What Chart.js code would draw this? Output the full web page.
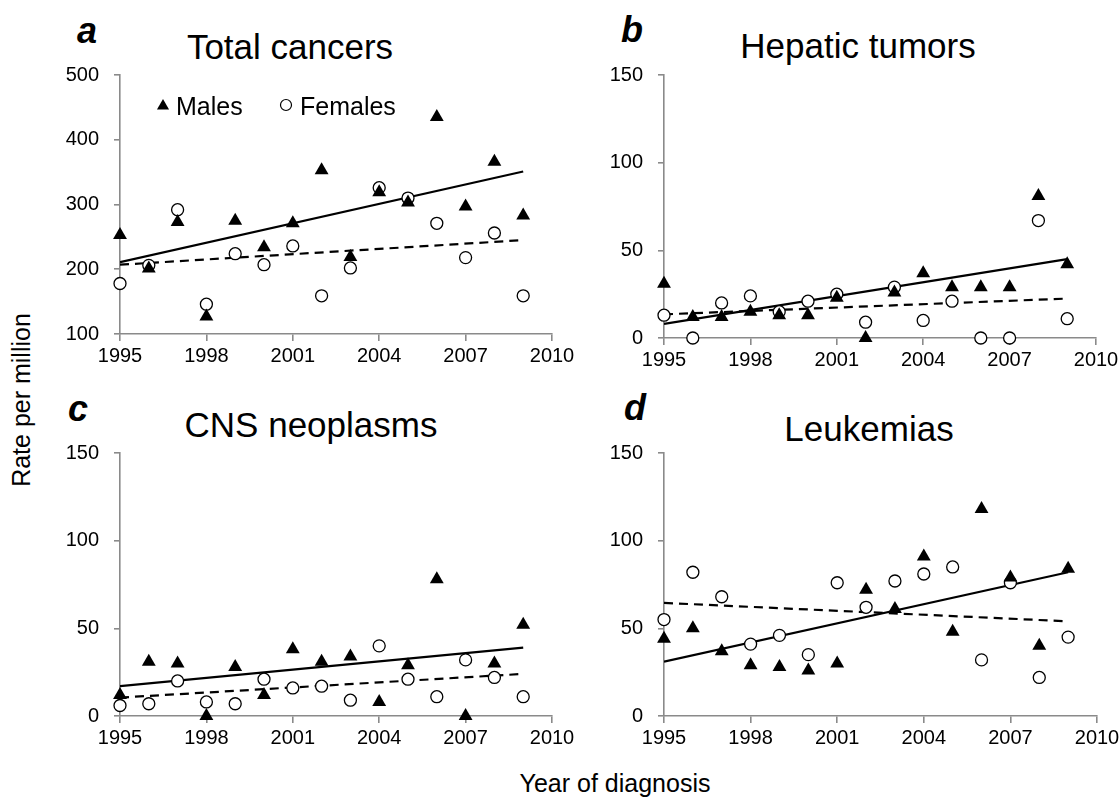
<!DOCTYPE html>
<html>
<head>
<meta charset="utf-8">
<script src="https://cdn.jsdelivr.net/npm/chart.js@4.4.0/dist/chart.umd.min.js"></script>
<style>
  body { margin: 0; background: #fff; width: 1120px; height: 801px; position: relative; overflow: hidden;
         font-family: 'Liberation Sans', Arial, sans-serif; }
  canvas { position: absolute; }
  .txt { position: absolute; transform: translate(-50%, -50%); white-space: nowrap; line-height: 1; color: #000; }
  .title { font-size: 35px; }
  .letter { font-size: 36px; font-weight: bold; font-style: italic; }
  .axis { font-size: 25px; }
</style>
</head>
<body>
<div class="txt letter" style="left:87px;top:31px">a</div>
<div class="txt letter" style="left:632px;top:30px">b</div>
<div class="txt letter" style="left:78px;top:409px">c</div>
<div class="txt letter" style="left:635px;top:408px">d</div>
<div class="txt title" style="left:290px;top:46px">Total cancers</div>
<div class="txt title" style="left:858px;top:45px">Hepatic tumors</div>
<div class="txt title" style="left:311px;top:424px">CNS neoplasms</div>
<div class="txt title" style="left:869px;top:428px">Leukemias</div>
<div class="txt axis" style="left:21px;top:400px;transform:translate(-50%,-50%) rotate(-90deg)">Rate per million</div>
<div class="txt axis" style="left:615px;top:783px">Year of diagnosis</div>
<script>
// years of diagnosis and axis ticks
const years = [1995, 1996, 1997, 1998, 1999, 2000, 2001, 2002, 2003, 2004, 2005, 2006, 2007, 2008, 2009];
const trendYears = [1995, 2009];
const yearTicks = [1995, 1998, 2001, 2004, 2007, 2010];
const totalTicks = [100, 200, 300, 400, 500];
const siteTicks = [0, 50, 100, 150];

// a - total cancers
const totalMales = [253, 201, 273, 127, 275, 234, 271, 353, 219, 319, 303, 435, 297, 366, 283];
const totalFemales = [178, 206, 292, 146, 224, 207, 236, 159, 202, 326, 310, 271, 218, 256, 159];
const totalMaleTrend = [211, 351];
const totalFemaleTrend = [207, 245];

// b - hepatic tumors
const hepaticMales = [31, 12, 12, 15, 13, 13, 23, 0, 26, 37, 29, 29, 29, 81, 42];
const hepaticFemales = [13, 0, 20, 24, 15, 21, 25, 9, 29, 10, 21, 0, 0, 67, 11];
const hepaticMaleTrend = [8, 45];
const hepaticFemaleTrend = [13.5, 22.5];

// c - CNS neoplasms
const cnsMales = [12, 31, 30, 0, 28, 12, 38, 31, 34, 8, 29, 78, 0, 30, 52];
const cnsFemales = [6, 7, 20, 8, 7, 21, 16, 17, 9, 40, 21, 11, 32, 22, 11];
const cnsMaleTrend = [17, 39];
const cnsFemaleTrend = [10.5, 24];

// d - leukemias
const leukMales = [44, 50, 37, 29, 28, 26, 30, 72, 61, 91, 48, 118, 79, 40, 84];
const leukFemales = [55, 82, 68, 41, 46, 35, 76, 62, 77, 81, 85, 32, 76, 22, 45];
const leukMaleTrend = [31, 82];
const leukFemaleTrend = [64.5, 54];

const FONT = "'Liberation Sans', Arial, sans-serif";
const AXIS = '#8a8a8a';
const Y_W = 70, X_H = 44, PAD_T = 16, PAD_R = 28;

const panels = [
  { males: totalMales, females: totalFemales, mt: totalMaleTrend, ft: totalFemaleTrend, yTicks: totalTicks,
    box: { left: 120, top: 64, right: 552, bottom: 334 }, legend: true },
  { males: hepaticMales, females: hepaticFemales, mt: hepaticMaleTrend, ft: hepaticFemaleTrend, yTicks: siteTicks,
    box: { left: 664, top: 64, right: 1096, bottom: 338 } },
  { males: cnsMales, females: cnsFemales, mt: cnsMaleTrend, ft: cnsFemaleTrend, yTicks: siteTicks,
    box: { left: 120, top: 442, right: 552, bottom: 716 } },
  { males: leukMales, females: leukFemales, mt: leukMaleTrend, ft: leukFemaleTrend, yTicks: siteTicks,
    box: { left: 664, top: 442, right: 1097, bottom: 716 } },
];

// legend drawn inside panel a
const sexLegend = {
  id: 'sexLegend',
  afterDatasetsDraw(chart) {
    const { ctx, chartArea } = chart;
    const x0 = chartArea.left, y0 = chartArea.top;
    ctx.save();
    // triangle
    const tx = x0 + 43, ty = y0 + 31, r = 7;
    ctx.fillStyle = '#000';
    ctx.beginPath();
    ctx.moveTo(tx, ty - r);
    ctx.lineTo(tx + r * 0.866, ty + r * 0.5);
    ctx.lineTo(tx - r * 0.866, ty + r * 0.5);
    ctx.closePath();
    ctx.fill();
    // circle
    ctx.beginPath();
    ctx.arc(x0 + 166, y0 + 30, 5.5, 0, Math.PI * 2);
    ctx.fillStyle = '#fff';
    ctx.fill();
    ctx.lineWidth = 1.2;
    ctx.strokeStyle = '#000';
    ctx.stroke();
    ctx.fillStyle = '#000';
    ctx.font = '25px ' + FONT;
    ctx.textBaseline = 'alphabetic';
    ctx.fillText('Males', x0 + 56, y0 + 40);
    ctx.fillText('Females', x0 + 180, y0 + 40);
    ctx.restore();
  }
};

const pts = (xs, ys) => xs.map((x, i) => ({ x: x, y: ys[i] }));

function makePanel(p) {
  const c = document.createElement('canvas');
  const w = p.box.right - p.box.left + Y_W + PAD_R;
  const h = p.box.bottom - p.box.top + PAD_T + X_H;
  c.width = w;
  c.height = h;
  c.style.width = w + 'px';
  c.style.height = h + 'px';
  c.style.left = (p.box.left - Y_W) + 'px';
  c.style.top = (p.box.top - PAD_T) + 'px';
  document.body.appendChild(c);

  new Chart(c.getContext('2d'), {
    type: 'scatter',
    data: {
      datasets: [
        { label: 'Males', data: pts(years, p.males), pointStyle: 'triangle', pointRadius: 8,
          pointBackgroundColor: '#000', pointBorderWidth: 0, order: 0, clip: false },
        { label: 'Females', data: pts(years, p.females), pointStyle: 'circle', pointRadius: 6,
          pointBackgroundColor: '#fff', pointBorderColor: '#000', pointBorderWidth: 1.3, order: 1, clip: false },
        { label: 'Males trend', data: pts(trendYears, p.mt), showLine: true, pointRadius: 0,
          borderColor: '#000', borderWidth: 2.2, order: 2 },
        { label: 'Females trend', data: pts(trendYears, p.ft), showLine: true, pointRadius: 0,
          borderColor: '#000', borderWidth: 2.2, borderDash: [9, 6], order: 3 },
      ],
    },
    options: {
      responsive: false,
      devicePixelRatio: 1,
      animation: false,
      events: [],
      layout: { padding: { top: PAD_T, right: PAD_R, left: 0, bottom: 0 } },
      plugins: { legend: { display: false }, tooltip: { enabled: false } },
      scales: {
        x: {
          type: 'linear', min: yearTicks[0], max: yearTicks[yearTicks.length - 1],
          afterBuildTicks: (s) => { s.ticks = yearTicks.map((v) => ({ value: v })); },
          afterFit: (s) => { s.height = X_H; },
          border: { color: AXIS, width: 1.6 },
          grid: { drawOnChartArea: false, drawTicks: true, tickLength: 7, color: AXIS, lineWidth: 1.6 },
          ticks: { color: '#000', font: { family: FONT, size: 20 }, padding: 3, maxRotation: 0,
                   autoSkip: false, callback: (v) => String(v) },
        },
        y: {
          type: 'linear', min: p.yTicks[0], max: p.yTicks[p.yTicks.length - 1],
          afterBuildTicks: (s) => { s.ticks = p.yTicks.map((v) => ({ value: v })); },
          afterFit: (s) => { s.width = Y_W; },
          border: { color: AXIS, width: 1.6 },
          grid: { drawOnChartArea: false, drawTicks: true, tickLength: 6, color: AXIS, lineWidth: 1.6 },
          ticks: { color: '#000', font: { family: FONT, size: 20 }, padding: 15, callback: (v) => String(v) },
        },
      },
    },
    plugins: p.legend ? [sexLegend] : [],
  });
}

panels.forEach(makePanel);
</script>
</body>
</html>
